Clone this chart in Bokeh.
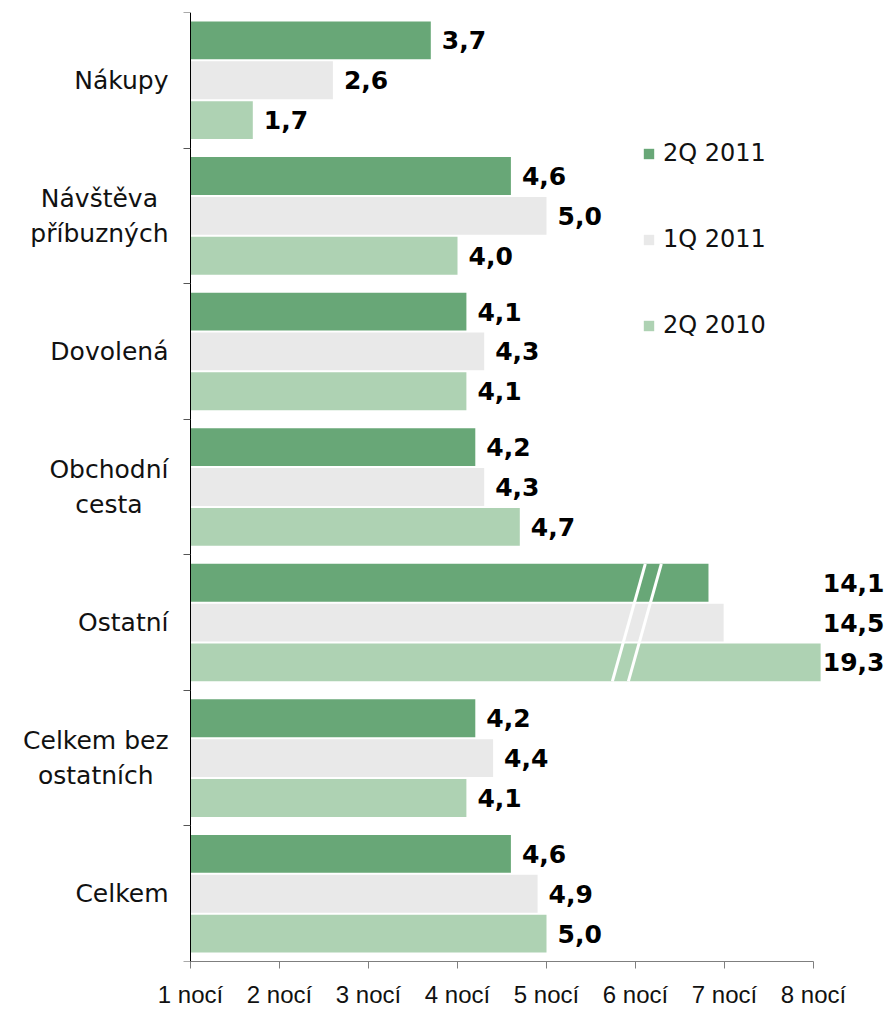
from bokeh.plotting import figure
from bokeh.models import (Range1d, LinearAxis, FixedTicker, ColumnDataSource,
                          Legend, LegendItem)
from bokeh.core.properties import value
from bokeh.embed import file_html
from bokeh.resources import INLINE

# ---------------- data ----------------
categories = ["Nákupy", "Návštěva\npříbuzných", "Dovolená", "Obchodní\ncesta",
              "Ostatní", "Celkem bez\nostatních", "Celkem"]
series_names = ["2Q 2011", "1Q 2011", "2Q 2010"]
q2_2011 = [3.7, 4.6, 4.1, 4.2, 14.1, 4.2, 4.6]
q1_2011 = [2.6, 5.0, 4.3, 4.3, 14.5, 4.4, 4.9]
q2_2010 = [1.7, 4.0, 4.1, 4.7, 19.3, 4.1, 5.0]
# the "Ostatní" bars are drawn on a broken axis: lengths as shown in the picture
broken_category = "Ostatní"
broken_drawn = [6.82, 6.99, 8.08]
tick_values = [1, 2, 3, 4, 5, 6, 7, 8]
tick_labels = ["1 nocí", "2 nocí", "3 nocí", "4 nocí", "5 nocí", "6 nocí", "7 nocí", "8 nocí"]

# ---------------- style ----------------
colors = ["#68a777", "#e9e9e9", "#aed2b3"]
W, H = 887, 1010
AXIS_X_PX = 190            # page x of the value 1
BORDER_T, BORDER_B = 12, 47
PX_PER_UNIT = 89.0
X_BASE = 1.0
X_LO = X_BASE - AXIS_X_PX / PX_PER_UNIT
X_HI = X_BASE + (W - AXIS_X_PX) / PX_PER_UNIT
BAR_STEP = 0.294
BAR_H = 0.279

p = figure(width=W, height=H, x_range=Range1d(X_LO, X_HI),
           y_range=Range1d(len(categories), 0),
           output_backend="svg", toolbar_location=None,
           x_axis_location=None, y_axis_location=None,
           min_border_left=0, min_border_right=0,
           min_border_top=BORDER_T, min_border_bottom=BORDER_B)
p.outline_line_color = None
p.grid.visible = False
p.background_fill_color = "white"

# bottom axis
xaxis = LinearAxis(ticker=FixedTicker(ticks=tick_values),
                   major_label_overrides={t: l for t, l in zip(tick_values, tick_labels)},
                   bounds=(tick_values[0], tick_values[-1]),
                   axis_line_color="#7f7f7f", major_tick_line_color="#7f7f7f",
                   major_tick_out=7, major_tick_in=0,
                   minor_tick_out=0, minor_tick_in=0,
                   major_label_standoff=12,
                   major_label_text_font="Liberation Sans",
                   major_label_text_font_size="24px",
                   major_label_text_color="#111111")
p.add_layout(xaxis, "below")

# left axis at value 1: group boundary ticks
n = len(categories)
ytick_axis = LinearAxis(ticker=FixedTicker(ticks=list(range(n + 1))),
                        major_label_overrides={i: "" for i in range(n + 1)},
                        major_label_text_font_size="0px", major_label_standoff=0,
                        axis_line_color="black", major_tick_line_color="#555555",
                        major_tick_out=7, major_tick_in=0,
                        minor_tick_out=0, minor_tick_in=0,
                        fixed_location=X_BASE)
p.add_layout(ytick_axis, "left")

# category labels (right-aligned block, centered lines)
cat_src = ColumnDataSource(dict(x=[X_BASE] * n, y=[i + 0.5 for i in range(n)],
                                text=categories))
p.text(x="x", y="y", text="text", source=cat_src, x_offset=-22,
       text_align="center", anchor="center_right", text_baseline="middle",
       text_font=value("DejaVu Sans"), text_font_size="25px",
       text_line_height=1.2, text_color="#111111")

renderers = []
for j, vals in enumerate([q2_2011, q1_2011, q2_2010]):
    ys, rights, lx, lofs, lalign, ltext = [], [], [], [], [], []
    for i, (cat, v) in enumerate(zip(categories, vals)):
        y = i + 0.5 + (j - 1) * BAR_STEP
        ys.append(y)
        ltext.append(f"{v:.1f}".replace(".", ","))
        if cat == broken_category:
            rights.append(broken_drawn[j])
            lx.append(X_HI)
            lofs.append(-3)
            lalign.append("right")
        else:
            rights.append(v)
            lx.append(v)
            lofs.append(11)
            lalign.append("left")
    src = ColumnDataSource(dict(y=ys, right=rights, lx=lx, lofs=lofs,
                                lalign=lalign, ltext=ltext))
    r = p.hbar(y="y", left=X_BASE, right="right", height=BAR_H, source=src,
               fill_color=colors[j], line_color=None)
    renderers.append(r)
    p.text(x="lx", y="y", text="ltext", x_offset="lofs", text_align="lalign",
           text_baseline="middle", source=src,
           text_font=value("DejaVu Sans"), text_font_style="bold",
           text_font_size="25px", text_color="#000000")

# axis-break marks on the broken group
bi = categories.index(broken_category)
y_top = bi + 0.5 - BAR_STEP - BAR_H / 2
y_bot = bi + 0.5 + BAR_STEP + BAR_H / 2
p.segment(x0=[6.11, 6.29], y0=[y_top, y_top], x1=[5.74, 5.92], y1=[y_bot, y_bot],
          line_color="white", line_width=3)

legend = Legend(items=[LegendItem(label=nm, renderers=[r])
                       for nm, r in zip(series_names, renderers)],
                location=(642, 622), orientation="vertical",
                glyph_width=13, glyph_height=13, label_standoff=8,
                spacing=58, padding=0, margin=0,
                border_line_color=None, background_fill_alpha=0,
                label_text_font="DejaVu Sans", label_text_font_size="24px",
                label_text_color="#111111")
p.add_layout(legend)

open("out.html", "w").write(file_html(p, INLINE))
